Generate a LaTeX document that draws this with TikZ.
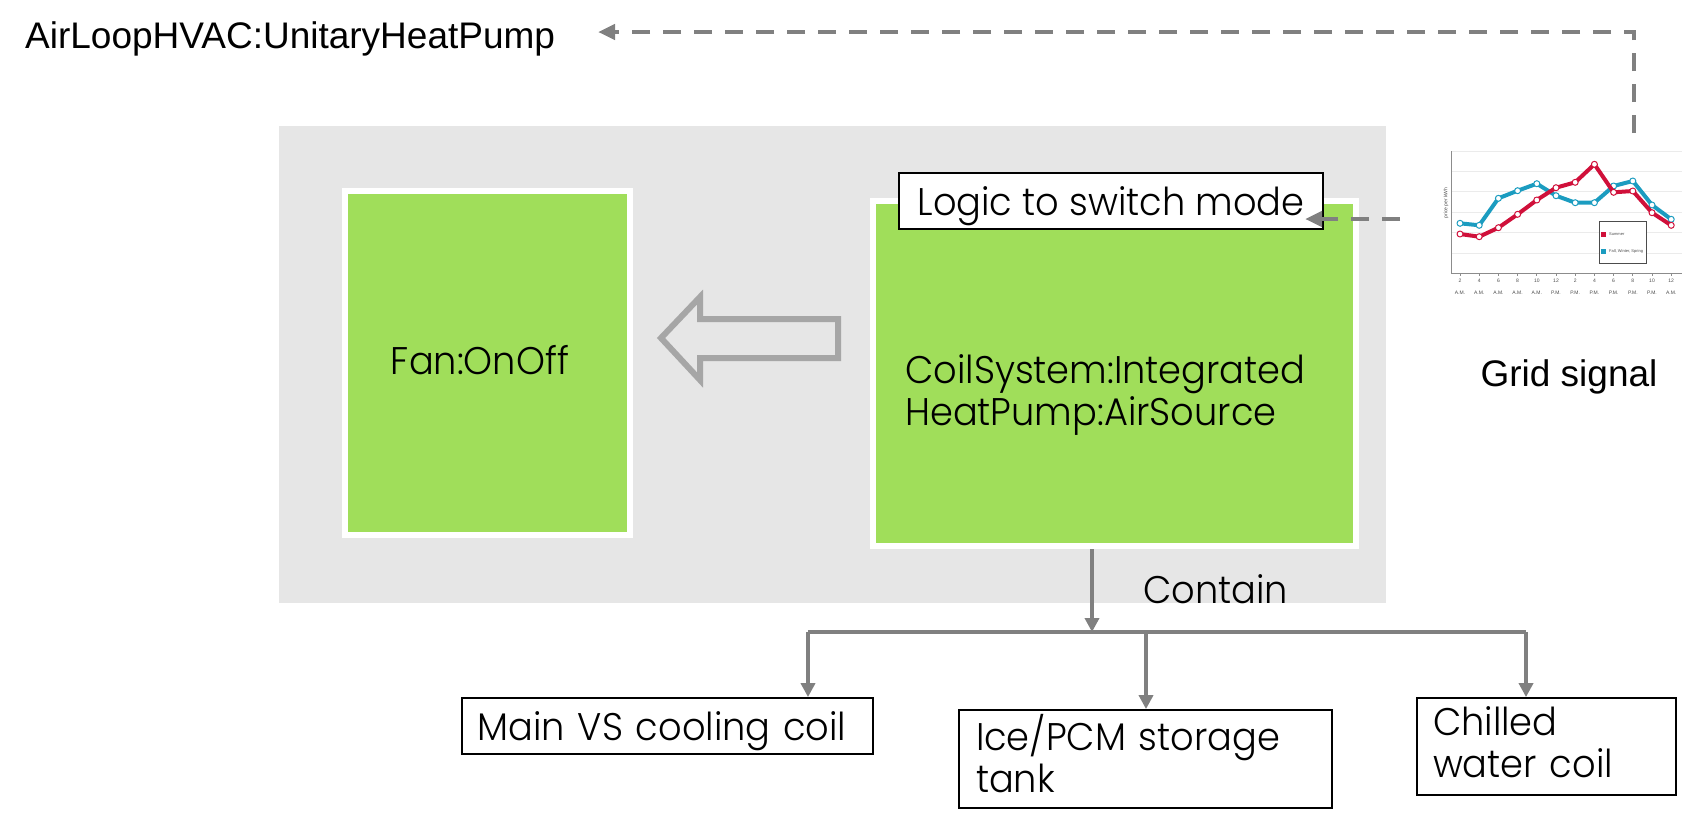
\documentclass[tikz,border=0pt]{standalone}
\usepackage{fontspec}
\setmainfont{Liberation Sans}
\newfontfamily\gothic[FakeStretch=0.955, UprightFont={* Light}]{Poppins}
\usetikzlibrary{arrows.meta}
\definecolor{hvgreen}{RGB}{160,222,90}
\definecolor{bggray}{RGB}{230,230,230}
\definecolor{conngray}{RGB}{128,128,128}
\definecolor{arrowgray}{RGB}{166,166,166}
\definecolor{sumred}{RGB}{208,16,58}
\definecolor{fallblue}{RGB}{27,156,192}
\begin{document}
\begin{tikzpicture}[x=1pt,y=-1pt,
  greenbox/.style={fill=hvgreen, draw=white, line width=6pt, inner sep=0pt},
  whitebox/.style={fill=white, draw=black, line width=1.8pt, inner sep=0pt},
  gtext/.style={font=\gothic\fontsize{38.5}{42}\selectfont, inner sep=0pt},
  atext/.style={font=\fontsize{37}{40}\selectfont, inner sep=0pt},
  conn/.style={draw=conngray, line width=4pt},
  connarrow/.style={conn, -{Triangle[length=14pt,width=14pt]}},
  dasharrow/.style={draw=conngray, line width=4.5pt, dash pattern=on 18pt off 13pt, -{Triangle[length=17pt,width=15pt]}},
  tiny/.style={font=\fontsize{5}{5}\selectfont, inner sep=0pt, text=black!70},
  redline/.style={draw=sumred, line width=4pt, line join=round, mark=*, mark size=3pt, mark options={fill=white, draw=sumred, line width=1pt}},
  blueline/.style={draw=fallblue, line width=4pt, line join=round, mark=*, mark size=3pt, mark options={fill=white, draw=fallblue, line width=1pt}}
]
\useasboundingbox (0,0) rectangle (1688,823);

% background panel
\node[fill=bggray, minimum width=1107pt, minimum height=477pt, inner sep=0pt] (panel) at (832.5,364.5) {};

% green boxes
\node[greenbox, minimum width=285pt, minimum height=344pt] (fan) at (487.5,363) {};
\node[greenbox, minimum width=483pt, minimum height=345pt] (coil) at (1114.5,373.5) {};
\node[gtext, anchor=base] (fanlabel) at (480,374) {Fan:OnOff};
\node[gtext, anchor=base west, text width=420pt, align=left] (coillabel) at (905,383) {CoilSystem:Integrated\\HeatPump:AirSource};

% logic box
\node[whitebox, gtext, minimum width=424pt, minimum height=56pt, text depth=0pt] (logic) at (1111,201) {Logic to switch mode};

% hollow arrow coil -> fan
\draw[draw=arrowgray, line width=6pt, fill=bggray, line join=miter]
  (661,338) -- (700,297) -- (700,319) -- (838,319) -- (838,358) -- (700,358) -- (700,380) -- cycle;

% top label
\node[atext, anchor=base west] (airloop) at (25,48) {AirLoopHVAC:UnitaryHeatPump};

% contained components
\node[whitebox, gtext, minimum width=411pt, minimum height=56pt, text width=380pt, align=left, text depth=0pt] (mainvs) at (667.5,726) {Main VS cooling coil};
\node[whitebox, gtext, minimum width=373pt, minimum height=98pt, text width=339pt, align=left, text depth=53pt] (ice) at (1145.5,759) {Ice/PCM storage\\tank};
\node[whitebox, gtext, minimum width=259pt, minimum height=97pt, text width=227pt, align=left, text depth=51pt] (chilled) at (1546.5,746.5) {Chilled\\water coil};
\node[gtext, anchor=base] (contain) at (1215.5,603) {Contain};

% bus
\coordinate (busin) at (1092,632);
\coordinate (busL) at (808,632);
\coordinate (busM) at (1146,632);
\coordinate (busR) at (1526,632);
\draw[connarrow] (coil.south -| busin) -- (busin);
\draw[conn] (busL) -- (busR);
\draw[connarrow] (busL) -- (busL |- mainvs.north);
\draw[connarrow] (busM) -- (busM |- ice.north);
\draw[connarrow] (busR) -- (busR |- chilled.north);

% chart
\node[inner sep=0pt, minimum width=240pt, minimum height=160pt] (chart) at (1566,222) {};
\foreach \yy in {151,171,191,212,232,253}
  \draw[black!8, line width=0.8pt] (1451,\yy) -- (1682,\yy);
\draw[black!45, line width=1pt] (1451,151) -- (1451,273) -- (1682,273);
\foreach \xx/\n/\t in {1460/2/A.M.,1479.2/4/A.M.,1498.4/6/A.M.,1517.6/8/A.M.,1536.8/10/A.M.,1556/12/P.M.,1575.2/2/P.M.,1594.4/4/P.M.,1613.6/6/P.M.,1632.8/8/P.M.,1652/10/P.M.,1671.2/12/A.M.}{
  \draw[black!45, line width=0.8pt] (\xx,273) -- (\xx,276);
  \node[tiny] at (\xx,281) {\n};
  \node[tiny] at (\xx,293) {\t};
}
\node[tiny, rotate=90] (ylab) at (1446,203) {price per kWh};
\draw[blueline] plot coordinates {(1460,223.3) (1479.2,225.3) (1498.4,198.3) (1517.6,190.7) (1536.8,183.7) (1556,195.7) (1575.2,202.7) (1594.4,202.7) (1613.6,186) (1632.8,181) (1652,205) (1671.2,219.3)};
\draw[redline] plot coordinates {(1460,234) (1479.2,236.7) (1498.4,227.7) (1517.6,214.3) (1536.8,200) (1556,187.7) (1575.2,182.3) (1594.4,164.3) (1613.6,192.3) (1632.8,191) (1652,212.7) (1671.2,225.3)};
\node[draw=black!70, fill=white, line width=0.6pt, minimum width=47pt, minimum height=42pt, inner sep=0pt] (legend) at (1622.5,242) {};
\fill[sumred] (1601,231.5) rectangle (1606,236.5);
\node[tiny, anchor=west, font=\fontsize{4}{4}\selectfont] (lsum) at (1609,234) {Summer};
\fill[fallblue] (1601,248.5) rectangle (1606,253.5);
\node[tiny, anchor=west, font=\fontsize{4}{4}\selectfont] (lfall) at (1609,251) {Fall, Winter, Spring};

\node[atext, anchor=base] (grid) at (1569,386) {Grid signal};

% signal connectors
\coordinate (gridtop) at (1634,133);
\coordinate (airtip) at (598,32);
\coordinate (chartleft) at (1400,219);
\coordinate (logictip) at (1305,219);
\draw[dasharrow] (gridtop) |- (airtip);
\draw[dasharrow] (chartleft) -- (logictip);
\end{tikzpicture}
\end{document}
